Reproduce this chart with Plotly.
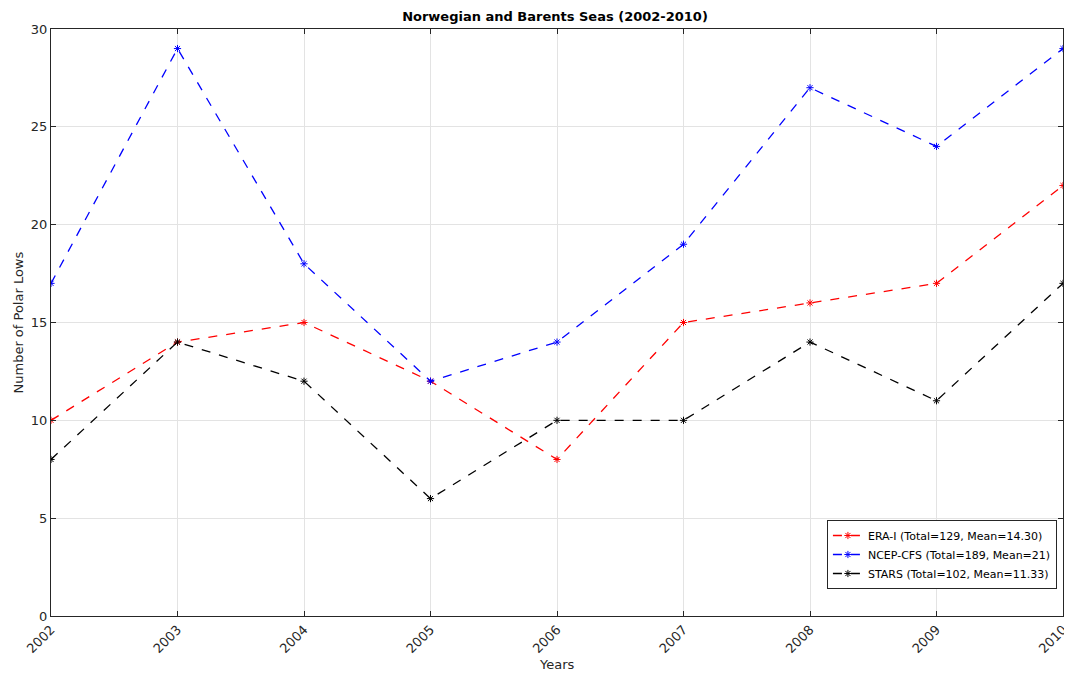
import plotly.graph_objects as go

years = [2002, 2003, 2004, 2005, 2006, 2007, 2008, 2009, 2010]
era_i = [10, 14, 15, 12, 8, 15, 16, 17, 22]
ncep_cfs = [17, 29, 18, 12, 14, 19, 27, 24, 29]
stars = [8, 14, 12, 6, 10, 10, 14, 11, 17]

series = [
    ("ERA-I (Total=129, Mean=14.30)", era_i, "#ff0000"),
    ("NCEP-CFS (Total=189, Mean=21)", ncep_cfs, "#0000ff"),
    ("STARS (Total=102, Mean=11.33)", stars, "#000000"),
]

font_family = "DejaVu Sans"
axis_color = "#262626"

# page body has an 8px default margin; size figure to fill the window
W, H = 1064, 667
L, R, T, B = 43, 9, 21, 59
plot_w = W - L - R
plot_h = H - T - B

fig = go.Figure()
for name, vals, col in series:
    fig.add_trace(go.Scatter(
        x=years, y=vals, name=name, mode="lines+markers",
        line=dict(color=col, width=1.3, dash="dash"),
        marker=dict(symbol="asterisk-open", size=6, color=col, line=dict(color=col, width=1)),
    ))

fig.update_layout(
    width=W, height=H,
    margin=dict(l=L, r=R, t=T, b=B, autoexpand=False),
    paper_bgcolor="white", plot_bgcolor="white",
    font=dict(family=font_family, size=12, color=axis_color),
    title=dict(text="<b>Norwegian and Barents Seas (2002-2010)</b>",
               x=547 / W, xanchor="center", y=1 - 8 / H, yanchor="middle",
               font=dict(size=13, color="#000000")),
    legend=dict(x=0.994, xanchor="right", y=0.046, yanchor="bottom",
                bgcolor="white", bordercolor=axis_color, borderwidth=1,
                font=dict(size=11, color="#000000"),
                itemwidth=30, tracegroupgap=0),
    showlegend=True,
    annotations=[
        dict(text="Years", xref="paper", yref="paper", x=0.5, y=-(656 - (T + plot_h)) / plot_h,
             xanchor="center", yanchor="middle", showarrow=False,
             font=dict(size=13, color=axis_color)),
        dict(text="Number of Polar Lows", xref="paper", yref="paper", x=(10 - L) / plot_w, y=0.5,
             xanchor="center", yanchor="middle", textangle=-90, showarrow=False,
             font=dict(size=13, color=axis_color)),
    ],
)

fig.update_xaxes(
    range=[2002, 2010], tickmode="array", tickvals=years, ticktext=[str(y) for y in years],
    tickangle=-45, ticks="inside", ticklen=5, tickcolor=axis_color,
    showline=True, linecolor=axis_color, linewidth=1, mirror="ticks",
    showgrid=True, gridcolor="#e3e3e3", gridwidth=1, zeroline=False,
    tickfont=dict(size=13, color=axis_color), automargin=False,
)
fig.update_yaxes(
    range=[0, 30], tickmode="array", tickvals=[0, 5, 10, 15, 20, 25, 30],
    ticks="inside", ticklen=5, tickcolor=axis_color,
    showline=True, linecolor=axis_color, linewidth=1, mirror="ticks",
    showgrid=True, gridcolor="#e3e3e3", gridwidth=1, zeroline=False,
    tickfont=dict(size=13, color=axis_color), automargin=False,
)

fig.write_html("out.html")
